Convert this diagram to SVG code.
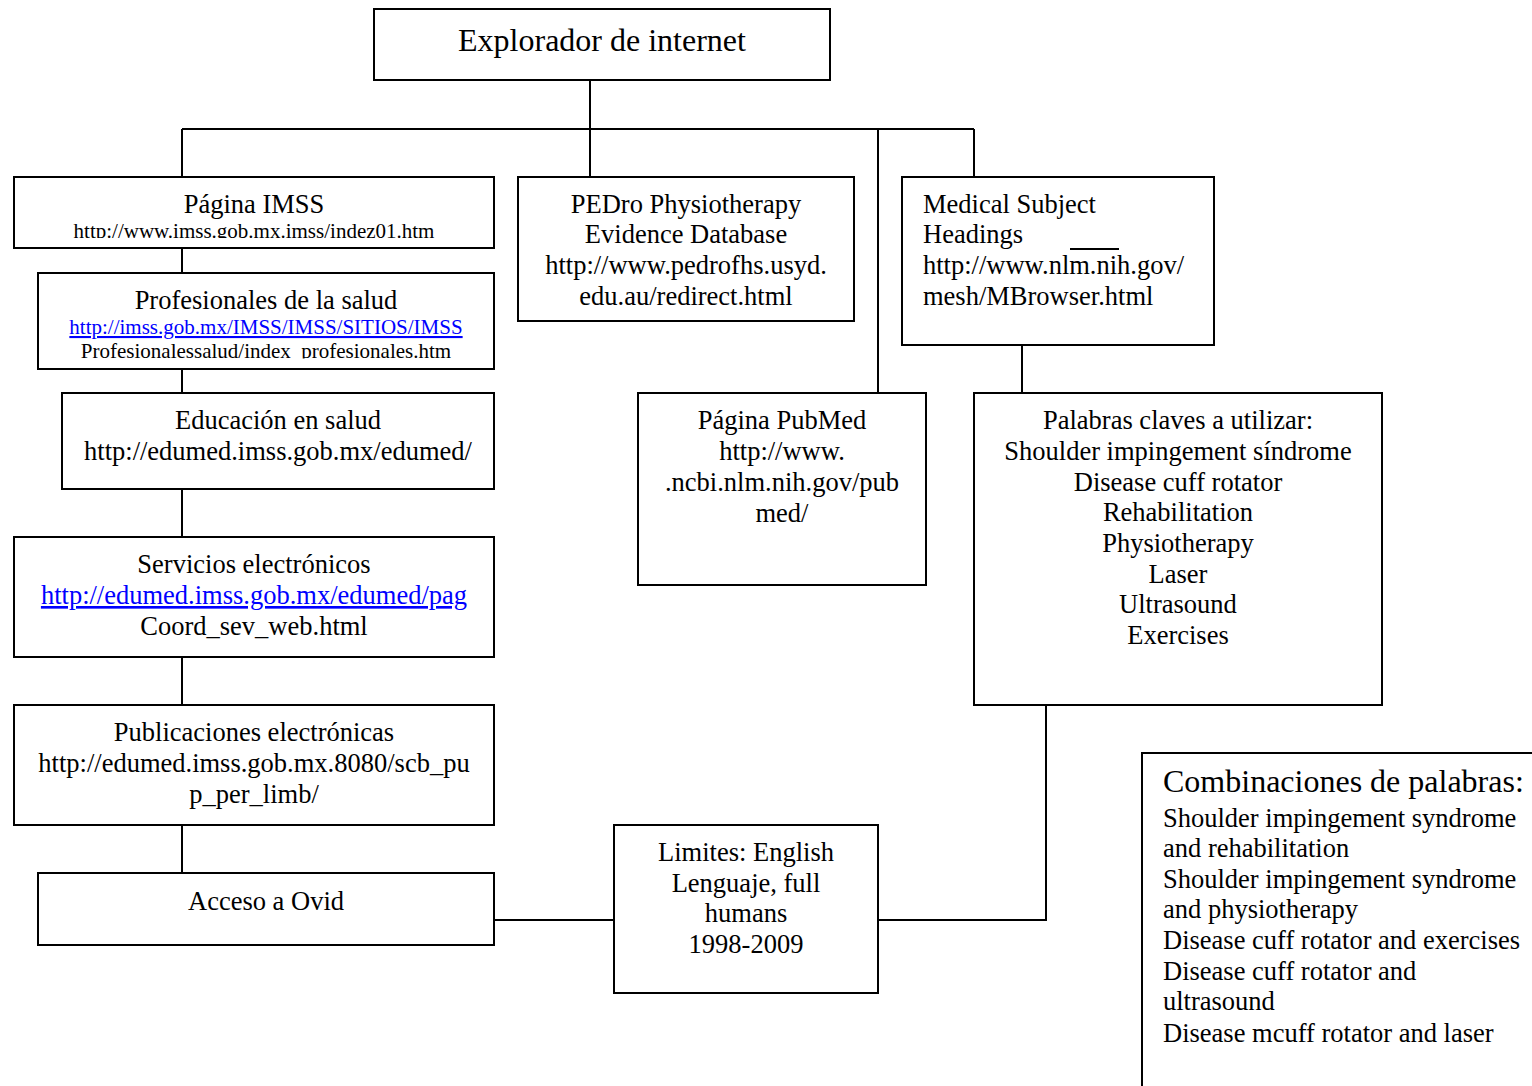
<svg xmlns="http://www.w3.org/2000/svg" width="1532" height="1086" viewBox="0 0 1532 1086">
<style>
.box{fill:#fff;stroke:#000;stroke-width:2}
.ln{stroke:#000;stroke-width:2;fill:none}
text{font-family:"Liberation Serif","Times New Roman",serif;fill:#000}
.t{font-size:26.5px}
.c{text-anchor:middle}
.s{font-size:21px}
.big{font-size:32px}
.lk{fill:#0000ff;text-decoration:underline}
</style>
<defs>
<clipPath id="cp1"><rect x="14" y="177" width="480" height="61"/></clipPath>
<clipPath id="cp2"><rect x="38" y="273" width="456" height="85.5"/></clipPath>
</defs>
<rect width="1532" height="1086" fill="#fff"/>
<g id="connectors">
<path class="ln" d="M590 80V129M182 129H974M182 129V177M590 129V177M878 129V393M974 129V177"/>
<path class="ln" d="M182 248V273M182 369V393M182 489V537M182 657V705M182 825V873"/>
<path class="ln" d="M494 920H614M878 920H1046V705"/>
<path class="ln" d="M1022 345V393"/>
</g>
<g id="explorador">
<rect class="box" x="374" y="9" width="456" height="71"/>
<text class="big c" x="602" y="51">Explorador de internet</text>
</g>
<g id="imss">
<rect class="box" x="14" y="177" width="480" height="71"/>
<text class="t c" x="254" y="213">Página IMSS</text>
<text class="s c" x="254" y="238" clip-path="url(#cp1)">http://www.imss.gob.mx.imss/indez01.htm</text>
</g>
<g id="profesionales">
<rect class="box" x="38" y="273" width="456" height="96"/>
<text class="t c" x="266" y="309">Profesionales de la salud</text>
<text class="s c lk" x="266" y="334">http://imss.gob.mx/IMSS/IMSS/SITIOS/IMSS</text>
<text class="s c" x="266" y="358" clip-path="url(#cp2)">Profesionalessalud/index_profesionales.htm</text>
</g>
<g id="educacion">
<rect class="box" x="62" y="393" width="432" height="96"/>
<text class="t c" x="278" y="429">Educación en salud</text>
<text class="t c" x="278" y="460">http://edumed.imss.gob.mx/edumed/</text>
</g>
<g id="servicios">
<rect class="box" x="14" y="537" width="480" height="120"/>
<text class="t c" x="254" y="573">Servicios electrónicos</text>
<text class="t c lk" x="254" y="604">http://edumed.imss.gob.mx/edumed/pag</text>
<text class="t c" x="254" y="635">Coord_sev_web.html</text>
</g>
<g id="publicaciones">
<rect class="box" x="14" y="705" width="480" height="120"/>
<text class="t c" x="254" y="741">Publicaciones electrónicas</text>
<text class="t c" x="254" y="772">http://edumed.imss.gob.mx.8080/scb_pu</text>
<text class="t c" x="254" y="803">p_per_limb/</text>
</g>
<g id="ovid">
<rect class="box" x="38" y="873" width="456" height="72"/>
<text class="t c" x="266" y="910">Acceso a Ovid</text>
</g>
<g id="limites">
<rect class="box" x="614" y="825" width="264" height="168"/>
<text class="t c" x="746" y="861">Limites: English</text>
<text class="t c" x="746" y="892">Lenguaje, full</text>
<text class="t c" x="746" y="922">humans</text>
<text class="t c" x="746" y="953">1998-2009</text>
</g>
<g id="pedro">
<rect class="box" x="518" y="177" width="336" height="144"/>
<text class="t c" x="686" y="213">PEDro Physiotherapy</text>
<text class="t c" x="686" y="243">Evidence Database</text>
<text class="t c" x="686" y="274">http://www.pedrofhs.usyd.</text>
<text class="t c" x="686" y="305">edu.au/redirect.html</text>
</g>
<g id="pubmed">
<rect class="box" x="638" y="393" width="288" height="192"/>
<text class="t c" x="782" y="429">Página PubMed</text>
<text class="t c" x="782" y="460">http://www.</text>
<text class="t c" x="782" y="491">.ncbi.nlm.nih.gov/pub</text>
<text class="t c" x="782" y="522">med/</text>
</g>
<g id="mesh">
<rect class="box" x="902" y="177" width="312" height="168"/>
<text class="t" x="923" y="213">Medical Subject</text>
<text class="t" x="923" y="243">Headings</text>
<line class="ln" x1="1070" y1="249" x2="1119" y2="249"/>
<text class="t" x="923" y="274">http://www.nlm.nih.gov/</text>
<text class="t" x="923" y="305">mesh/MBrowser.html</text>
</g>
<g id="palabras">
<rect class="box" x="974" y="393" width="408" height="312"/>
<text class="t c" x="1178" y="429">Palabras claves a utilizar:</text>
<text class="t c" x="1178" y="460">Shoulder impingement síndrome</text>
<text class="t c" x="1178" y="491">Disease cuff rotator</text>
<text class="t c" x="1178" y="521">Rehabilitation</text>
<text class="t c" x="1178" y="552">Physiotherapy</text>
<text class="t c" x="1178" y="583">Laser</text>
<text class="t c" x="1178" y="613">Ultrasound</text>
<text class="t c" x="1178" y="644">Exercises</text>
</g>
<g id="combinaciones">
<rect class="box" x="1142" y="753" width="400" height="350"/>
<text class="big" x="1163" y="792">Combinaciones de palabras:</text>
<text class="t" x="1163" y="827">Shoulder impingement syndrome</text>
<text class="t" x="1163" y="857">and rehabilitation</text>
<text class="t" x="1163" y="888">Shoulder impingement syndrome</text>
<text class="t" x="1163" y="918">and physiotherapy</text>
<text class="t" x="1163" y="949">Disease cuff rotator and exercises</text>
<text class="t" x="1163" y="980">Disease cuff rotator and</text>
<text class="t" x="1163" y="1010">ultrasound</text>
<text class="t" x="1163" y="1042">Disease mcuff rotator and laser</text>
</g>
</svg>
